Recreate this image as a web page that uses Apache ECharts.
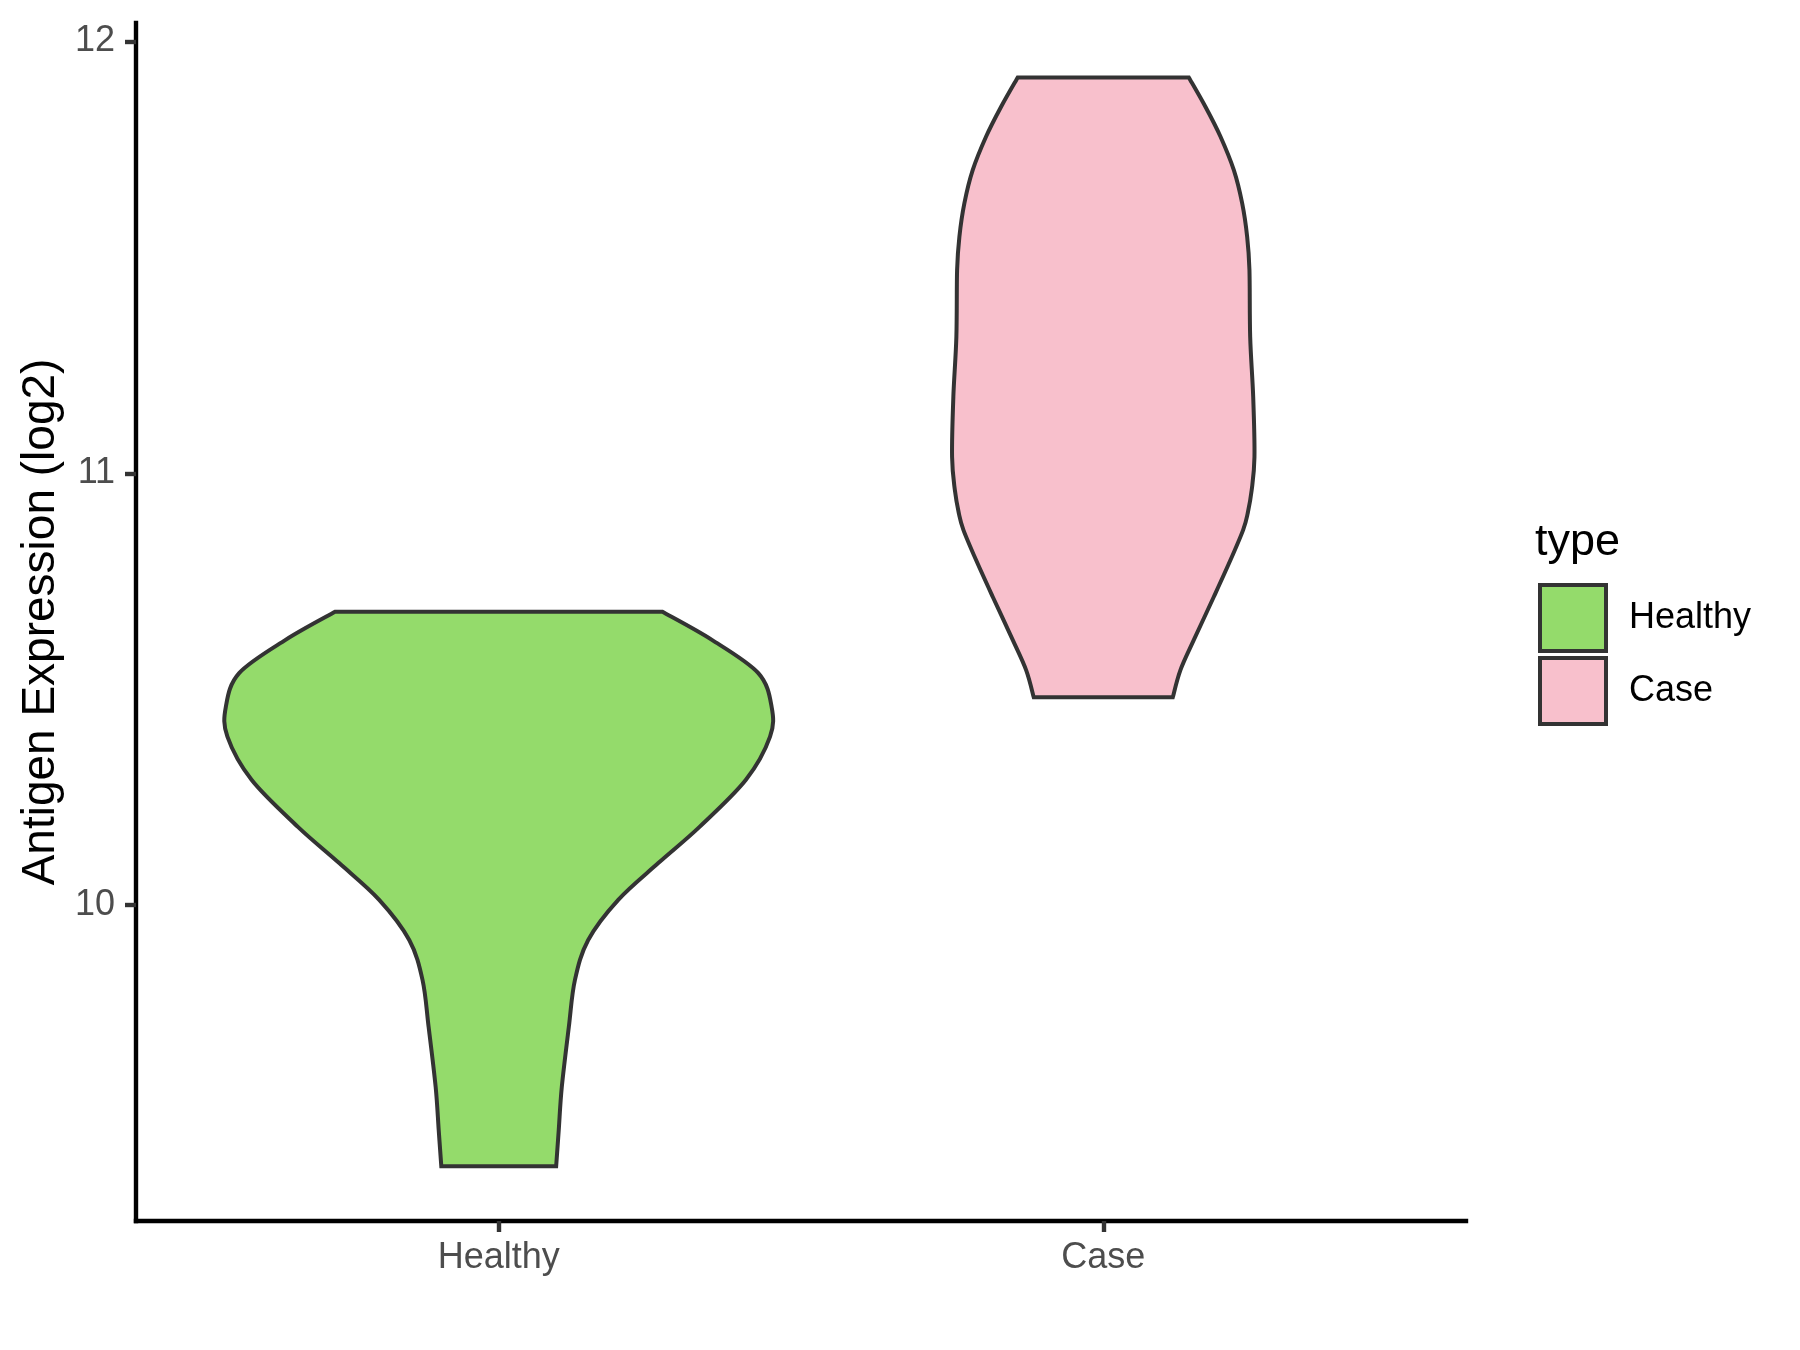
<!DOCTYPE html>
<html><head><meta charset="utf-8">
<script src="https://cdn.jsdelivr.net/npm/echarts@6/dist/echarts.min.js"></script>
<style>html,body{margin:0;padding:0;background:#fff}#c{width:1800px;height:1350px}</style>
</head><body><div id="c"></div>
<script>
// ---- data ----
const categories = ['Healthy', 'Case'];
const categoryPositions = [1, 2];
const yTickValues = [10, 11, 12];
// violin outline: expression value and half-width (in category units)
const healthyValues = [10.679, 10.614, 10.537, 10.459, 10.390, 10.290, 10.181, 10.097, 10.012, 9.919, 9.826, 9.718, 9.578, 9.479, 9.395];
const healthyHalfWidths = [0.2708, 0.3526, 0.4294, 0.4514, 0.4488, 0.4089, 0.3322, 0.2639, 0.1977, 0.1480, 0.1260, 0.1160, 0.1043, 0.0993, 0.0950];
const caseValues = [11.917, 11.849, 11.780, 11.702, 11.625, 11.548, 11.471, 11.316, 11.177, 11.038, 10.961, 10.908, 10.869, 10.799, 10.714, 10.614, 10.544, 10.481];
const caseHalfWidths = [0.1415, 0.1690, 0.1938, 0.2160, 0.2298, 0.2380, 0.2418, 0.2430, 0.2480, 0.2501, 0.2455, 0.2390, 0.2314, 0.2104, 0.1829, 0.1498, 0.1276, 0.1150];
const fillColors = ['#94DB6B', '#F8C0CC'];

const FONT = '"Liberation Sans", Arial, Helvetica, sans-serif';
const OUTLINE = '#333333';

// smooth curve through the given pixel points (Catmull-Rom as cubic Bezier)
function curveThrough(pts) {
  let d = '';
  for (let i = 0; i < pts.length - 1; i++) {
    const p0 = pts[i - 1] || pts[i], p1 = pts[i], p2 = pts[i + 1], p3 = pts[i + 2] || pts[i + 1];
    const c1x = p1[0] + (p2[0] - p0[0]) / 6, c1y = p1[1] + (p2[1] - p0[1]) / 6;
    const c2x = p2[0] - (p3[0] - p1[0]) / 6, c2y = p2[1] - (p3[1] - p1[1]) / 6;
    d += ' C ' + c1x + ' ' + c1y + ' ' + c2x + ' ' + c2y + ' ' + p2[0] + ' ' + p2[1];
  }
  return d;
}

function violinSeries(name, pos, values, halfWidths, color) {
  return {
    type: 'custom',
    name: name,
    data: [[pos, values[0]]],
    encode: { x: 0, y: 1 },
    itemStyle: { color: color, borderColor: OUTLINE, borderWidth: 4 },
    clip: false,
    renderItem: function (params, api) {
      const left = [], right = [];
      for (let i = 0; i < values.length; i++) {
        left.push(api.coord([pos - halfWidths[i], values[i]]));
        right.push(api.coord([pos + halfWidths[i], values[i]]));
      }
      right.reverse();
      let d = 'M ' + left[0][0] + ' ' + left[0][1];
      d += curveThrough(left);
      d += ' L ' + right[0][0] + ' ' + right[0][1];
      d += curveThrough(right);
      d += ' Z';
      return {
        type: 'path',
        shape: { pathData: d },
        style: { fill: color, stroke: OUTLINE, lineWidth: 4, lineJoin: 'miter' }
      };
    }
  };
}

const chart = echarts.init(document.getElementById('c'), null, { renderer: 'canvas' });
chart.setOption({
  animation: false,
  backgroundColor: '#ffffff',
  title: {
    text: 'type', left: 1535, top: 520, padding: 0,
    textStyle: { fontSize: 45, fontWeight: 'normal', color: '#000000', fontFamily: FONT }
  },
  legend: {
    orient: 'vertical', left: 1538, top: 583, padding: 0,
    itemWidth: 66, itemHeight: 66, itemGap: 3, icon: 'rect', selectedMode: false,
    data: [
      { name: 'Healthy', icon: 'rect', itemStyle: { color: fillColors[0], borderColor: OUTLINE, borderWidth: 4 } },
      { name: 'Case', icon: 'rect', itemStyle: { color: fillColors[1], borderColor: OUTLINE, borderWidth: 4 } }
    ],
    textStyle: { fontSize: 36, color: '#000000', fontFamily: FONT, padding: [0, 0, 0, 18] }
  },
  grid: { left: 136, right: 334, top: 23, bottom: 129, containLabel: false },
  xAxis: {
    type: 'value', min: 0.4, max: 2.6,
    splitLine: { show: false },
    axisLine: { show: true, onZero: false, lineStyle: { color: '#000000', width: 4.4, cap: 'square' } },
    axisTick: { show: true, customValues: categoryPositions, length: 11, lineStyle: { color: OUTLINE, width: 4.4 } },
    axisLabel: {
      customValues: categoryPositions,
      formatter: function (v) { return categories[categoryPositions.indexOf(v)]; },
      color: '#4D4D4D', fontSize: 36, margin: 19, fontFamily: FONT
    }
  },
  yAxis: {
    type: 'value', min: 9.268, max: 12.043,
    splitLine: { show: false },
    axisLine: { show: true, onZero: false, lineStyle: { color: '#000000', width: 4.4, cap: 'square' } },
    axisTick: { show: true, customValues: yTickValues, length: 11, lineStyle: { color: OUTLINE, width: 4.4 } },
    axisLabel: { customValues: yTickValues, color: '#4D4D4D', fontSize: 36, margin: 21, fontFamily: FONT },
    name: 'Antigen Expression (log2)', nameLocation: 'middle', nameGap: 72,
    nameTextStyle: { fontSize: 46, color: '#000000', fontFamily: FONT }
  },
  series: [
    violinSeries(categories[0], categoryPositions[0], healthyValues, healthyHalfWidths, fillColors[0]),
    violinSeries(categories[1], categoryPositions[1], caseValues, caseHalfWidths, fillColors[1])
  ]
});
</script>
</body></html>
